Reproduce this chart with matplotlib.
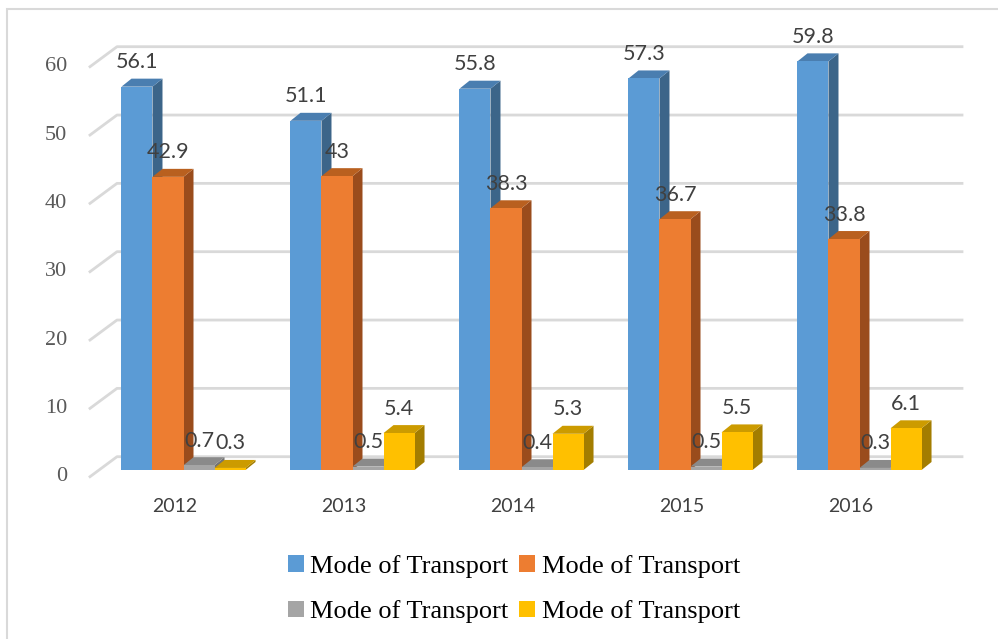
import matplotlib.pyplot as plt
import numpy as np
from matplotlib.patches import Polygon, Rectangle
from matplotlib.transforms import IdentityTransform

years = ['2012', '2013', '2014', '2015', '2016']
series_a = [56.1, 51.1, 55.8, 57.3, 59.8]
series_b = [42.9, 43, 38.3, 36.7, 33.8]
series_c = [0.7, 0.5, 0.4, 0.5, 0.3]
series_d = [0.3, 5.4, 5.3, 5.5, 6.1]
labels = ['Mode of Transport'] * 4
yticks = [0, 10, 20, 30, 40, 50, 60]

# front, top, side colours per series
colors = [('#5B9BD5', '#4A7EB0', '#3C6589'),
          ('#ED7D31', '#B9601F', '#9A4C1C'),
          ('#A5A5A5', '#8A8A8A', '#737373'),
          ('#FFC000', '#CC9B00', '#A37D00')]

W, H = 998, 639
fig = plt.figure(figsize=(W / 100, H / 100), dpi=100)
ax = fig.add_axes([90 / W, (H - 476.7) / H, 845 / W, 410 / H])
ax.set_xlim(-0.5, 4.5)
ax.set_ylim(0, 60)
ax.axis('off')

ident = IdentityTransform()
wall = np.array([27, 20])     # back wall offset (px)
shift = np.array([9, 6.7])    # bar front plane offset (px)
depth = np.array([10, 8])     # bar depth (px)
grid_c = '#D9D9D9'

# gridlines on back wall + diagonal to front
for t in yticks:
    p0 = ax.transData.transform((-0.5, t))
    p1 = ax.transData.transform((4.5, t))
    pts = np.array([p0, p0 + wall, p1 + wall])
    ax.add_line(plt.Line2D(pts[:, 0], pts[:, 1], transform=ident,
                           color=grid_c, lw=2, clip_on=False, zorder=0))
    fig.text((p0[0] - 23) / W, p0[1] / H, str(t), ha='right', va='center',
             fontsize=16, color='#595959', family='Liberation Serif')

data = [series_a, series_b, series_c, series_d]
w = 0.1835
for i in range(len(years)):
    for k, vals in enumerate(data):
        v = vals[i]
        front, top, side = colors[k]
        x0 = i + (k - 2) * w
        bl = ax.transData.transform((x0, 0)) + shift
        tr = ax.transData.transform((x0 + w, v)) + shift
        tl = np.array([bl[0], tr[1]])
        br = np.array([tr[0], bl[1]])
        ax.add_patch(Polygon([br, tr, tr + depth, br + depth], closed=True,
                             transform=ident, fc=side, ec='none', clip_on=False))
        ax.add_patch(Polygon([tl, tr, tr + depth, tl + depth], closed=True,
                             transform=ident, fc=top, ec='none', clip_on=False))
        ax.add_patch(Rectangle(bl, tr[0] - bl[0], tr[1] - bl[1],
                               transform=ident, fc=front, ec='none', clip_on=False))
        fig.text((bl[0] + tr[0]) / 2 / W, (tr[1] + 24.5) / H, f'{v:g}',
                 ha='center', va='center', fontsize=15.5, color='#404040',
                 family='Lato')

for i, yr in enumerate(years):
    p = ax.transData.transform((i, 0))
    fig.text(p[0] / W, (p[1] - 30) / H, yr, ha='center', va='center',
             fontsize=14, color='#404040', family='Lato')

# outer frame
fig.patches.append(Rectangle((7 / W, -0.1), 1.2, (H - 9) / H + 0.1,
                             transform=fig.transFigure, fill=False,
                             ec='#D9D9D9', lw=1.5))

order = [0, 2, 1, 3]
handles = [Rectangle((0, 0), 1, 1, fc=colors[k][0]) for k in order]
fig.legend(handles, [labels[k] for k in order], ncol=2, loc='center',
           bbox_to_anchor=(514 / W, (H - 589) / H), frameon=False,
           prop={'family': 'Liberation Serif', 'size': 19},
           handlelength=0.6, handleheight=0.6, handletextpad=0.25,
           columnspacing=0.4, labelspacing=0.85)

fig.savefig('out.png', dpi=100)
